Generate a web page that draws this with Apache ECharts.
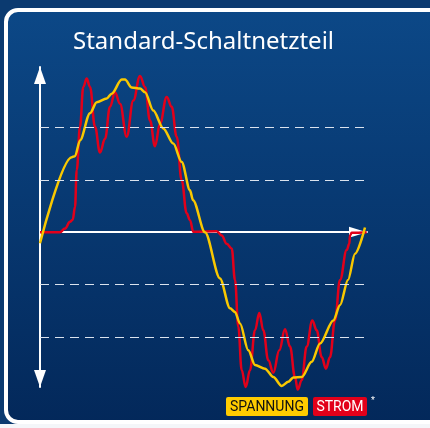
<!DOCTYPE html>
<html>
<head>
<meta charset="utf-8">
<style>html,body{margin:0;padding:0;background:#0b3a70;}#chart{width:430px;height:428px;}</style>
<script src="https://cdn.jsdelivr.net/npm/echarts@6/dist/echarts.min.js"></script>
</head>
<body>
<div id="chart"></div>
<script>
// Time axis (arbitrary units) and signal values (grid units, dashed lines at ±1, ±2)
const spannungX = [0, 31.7, 35, 40, 50, 56.7, 66.7, 71.7, 81.7, 85, 91.7, 100, 105, 113.3, 123.3, 133.3, 141.7, 150, 153, 165, 180, 190, 195, 200, 208.3, 215, 225, 233.3, 241.7, 248.3, 253.3, 261.7, 271.7, 280, 293.3, 300, 308, 315, 325];
const spannungY = [-0.21, 1.43, 1.45, 1.75, 2.27, 2.48, 2.55, 2.64, 2.91, 2.91, 2.76, 2.74, 2.67, 2.32, 1.98, 1.69, 1.34, 0.80, 0.61, 0.0, -0.88, -1.45, -1.52, -1.74, -2.25, -2.53, -2.60, -2.76, -2.93, -2.85, -2.77, -2.76, -2.47, -2.12, -1.68, -1.39, -0.91, -0.41, 0.09];
const stromX = [0, 20, 25, 30, 32.7, 35, 36.7, 40, 43.3, 46.7, 50, 55, 60, 65, 70, 75, 80, 86.7, 93.3, 100, 105, 110, 115, 120, 126.7, 131.7, 136.7, 141.7, 146.7, 150, 153.3, 176.7, 181.7, 186.7, 191.7, 195, 198.3, 201.7, 205.7, 210, 215, 219.3, 223.3, 228.3, 233.3, 239.3, 245, 250, 255, 257.7, 261.7, 266.7, 272.3, 276.7, 281.7, 286, 290, 295, 300, 306.7, 309.3, 310, 311.7, 326.7];
const stromY = [0, 0, 0.07, 0.20, 0.24, 0.48, 1.18, 2.01, 2.77, 2.93, 2.77, 2.01, 1.52, 1.78, 2.39, 2.67, 2.45, 1.82, 2.51, 2.98, 2.77, 2.13, 1.64, 2.07, 2.58, 2.39, 1.82, 0.99, 0.36, 0.23, 0.01, 0.02, -0.06, -0.22, -0.31, -0.91, -1.80, -2.63, -2.95, -2.63, -1.87, -1.54, -1.87, -2.44, -2.68, -2.25, -1.85, -2.18, -2.76, -3.00, -2.82, -2.18, -1.68, -1.87, -2.38, -2.60, -2.38, -1.68, -0.91, -0.34, -0.22, -0.06, -0.01, 0];
const gridLevels = [2, 1, -1, -2];
const titleText = 'Standard-Schaltnetzteil';
const legendLabels = ['SPANNUNG', 'STROM'];

const chart = echarts.init(document.getElementById('chart'), null, {renderer: 'canvas'});
const zip = (xs, ys) => xs.map((x, i) => [x, ys[i]]);

chart.setOption({
  backgroundColor: '#0b3a70',
  animation: false,
  title: {
    text: titleText, left: 73, top: 30, padding: 0,
    textStyle: {color: '#ffffff', fontFamily: 'Noto Sans', fontWeight: 'normal', fontSize: 24}
  },
  graphic: [
    {type: 'rect', z: -10, shape: {x: 6, y: 10, width: 440, height: 412, r: 12},
     style: {fill: new echarts.graphic.LinearGradient(0, 0, 0, 1, [{offset: 0, color: '#0c4887'}, {offset: 1, color: '#03285a'}]), stroke: '#ffffff', lineWidth: 4}},
    {type: 'rect', z: -9, shape: {x: 0, y: 424, width: 430, height: 6}, style: {fill: '#f4f6f9'}},
    {type: 'rect', shape: {x: 226, y: 397, width: 82, height: 19, r: 2}, style: {fill: '#ffcc00'}},
    {type: 'text', x: 267, y: 407, style: {text: legendLabels[0], fill: '#111111', font: '14px Roboto', align: 'center', verticalAlign: 'middle'}},
    {type: 'rect', shape: {x: 313, y: 397, width: 54, height: 19, r: 2}, style: {fill: '#e2001a'}},
    {type: 'text', x: 340, y: 407, style: {text: legendLabels[1], fill: '#ffffff', font: '14px Roboto', align: 'center', verticalAlign: 'middle'}},
    {type: 'text', x: 373, y: 401, style: {text: '*', fill: '#ffffff', font: '9px Roboto', align: 'center', verticalAlign: 'middle'}}
  ],
  grid: {left: 40, top: 67, width: 327, height: 320, containLabel: false},
  xAxis: {
    type: 'value', min: 0, max: 327,
    axisLine: {onZero: true, lineStyle: {color: '#ffffff', width: 2}, symbol: ['none', 'triangle'], symbolSize: [11, 18], symbolOffset: [0, -9]},
    axisTick: {show: false}, axisLabel: {show: false}, splitLine: {show: false}
  },
  yAxis: {
    type: 'value', min: -2.95, max: 3.15,
    axisLine: {lineStyle: {color: '#ffffff', width: 2}, symbol: ['triangle', 'triangle'], symbolSize: [12, 17], symbolOffset: [8.5, -8.5]},
    axisTick: {show: false}, axisLabel: {show: false}, splitLine: {show: false}
  },
  series: [
    {
      name: 'grid', type: 'line', data: [], silent: true,
      markLine: {
        silent: true, symbol: 'none', label: {show: false},
        lineStyle: {color: '#dbe3ee', type: [9, 6], width: 1.2},
        data: gridLevels.map(v => ({yAxis: v}))
      }
    },
    {
      name: 'STROM', type: 'line', data: zip(stromX, stromY), showSymbol: false, clip: false,
      smooth: 0.4, smoothMonotone: 'x',
      lineStyle: {color: '#e2001a', width: 2.5}
    },
    {
      name: 'SPANNUNG', type: 'line', data: zip(spannungX, spannungY), showSymbol: false, clip: false,
      smooth: 0.3, smoothMonotone: 'x',
      lineStyle: {color: '#f9c800', width: 2.5}
    }
  ]
});
</script>
</body>
</html>
